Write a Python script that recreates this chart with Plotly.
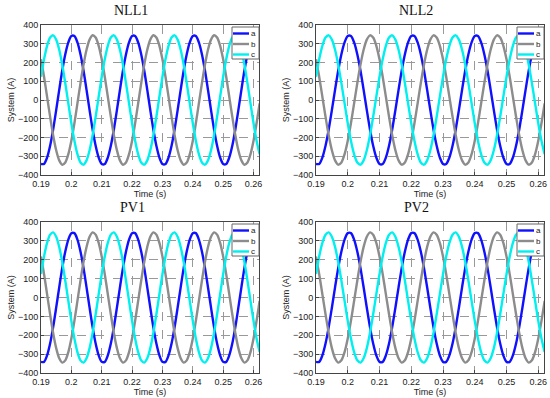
import plotly.graph_objects as go

# Time samples (s): 0.190 ... 0.262 in 1 ms steps
time = [round(0.19 + 0.001 * k, 3) for k in range(73)]

# Phase currents (A)
phase_a = [-341, -341, -307, -244, -157, -54, 54, 157, 244, 307, 341, 341, 307, 244, 157, 54, -54, -157, -244, -307,
           -341, -341, -307, -244, -157, -54, 54, 157, 244, 307, 341, 341, 307, 244, 157, 54, -54, -157, -244, -307,
           -341, -341, -307, -244, -157, -54, 54, 157, 244, 307, 341, 341, 307, 244, 157, 54, -54, -157, -244, -307,
           -341, -341, -307, -244, -157, -54, 54, 157, 244, 307, 341, 341, 307]
phase_b = [217, 124, 18, -89, -188, -268, -322, -345, -333, -289, -217, -124, -18, 89, 188, 268, 322, 345, 333, 289,
           217, 124, 18, -89, -188, -268, -322, -345, -333, -289, -217, -124, -18, 89, 188, 268, 322, 345, 333, 289,
           217, 124, 18, -89, -188, -268, -322, -345, -333, -289, -217, -124, -18, 89, 188, 268, 322, 345, 333, 289,
           217, 124, 18, -89, -188, -268, -322, -345, -333, -289, -217, -124, -18]
phase_c = [124, 217, 289, 333, 345, 322, 268, 188, 89, -18, -124, -217, -289, -333, -345, -322, -268, -188, -89, 18,
           124, 217, 289, 333, 345, 322, 268, 188, 89, -18, -124, -217, -289, -333, -345, -322, -268, -188, -89, 18,
           124, 217, 289, 333, 345, 322, 268, 188, 89, -18, -124, -217, -289, -333, -345, -322, -268, -188, -89, 18,
           124, 217, 289, 333, 345, 322, 268, 188, 89, -18, -124, -217, -289]

panel_titles = ["NLL1", "NLL2", "PV1", "PV2"]
series_names = ["a", "b", "c"]
series_colors = ["#1010ff", "#8c8c8c", "#00f0f0"]
x_ticks = [0.19, 0.2, 0.21, 0.22, 0.23, 0.24, 0.25, 0.26]
x_tick_labels = ["0.19", "0.2", "0.21", "0.22", "0.23", "0.24", "0.25", "0.26"]
y_ticks = [-400, -300, -200, -100, 0, 100, 200, 300, 400]

W, H = 550, 398
# pixel boxes of each panel: (left, right, top, bottom)
boxes = [(41, 259, 25, 175), (316, 544, 25, 175),
         (41, 259, 222, 373), (316, 544, 222, 373)]
title_pos = [(131, 10), (416, 10), (132, 207), (416, 207)]

def px(x):
    return x / W

def py(y):
    return 1 - y / H

fig = go.Figure()
layout = dict(width=W, height=H, margin=dict(l=0, r=0, t=0, b=0),
              paper_bgcolor="white", plot_bgcolor="white", showlegend=False,
              font=dict(family="Liberation Sans, Arial, sans-serif", size=9, color="#222"))
annotations = []
shapes = []
for i, (title, box) in enumerate(zip(panel_titles, boxes)):
    n = "" if i == 0 else str(i + 1)
    xa, ya = "x" + n, "y" + n
    for name, col, vals in zip(series_names, series_colors, [phase_a, phase_b, phase_c]):
        fig.add_trace(go.Scatter(x=time, y=vals, name=name, mode="lines",
                                 line=dict(color=col, width=2.4, shape="spline", smoothing=0.8),
                                 xaxis=xa, yaxis=ya, showlegend=False))
    l, r, t, b = box
    axis_common = dict(showline=True, linecolor="#444", linewidth=1, mirror=True,
                       showgrid=True, gridcolor="#999", griddash="dash", gridwidth=0.7,
                       zeroline=False, ticks="inside", ticklen=3, tickcolor="#444",
                       automargin=False, tickfont=dict(size=9, color="#222"))
    layout["xaxis" + n] = dict(domain=[px(l), px(r)], anchor=ya, range=[0.19, 0.2618],
                               tickvals=x_ticks, ticktext=x_tick_labels,
                               title=dict(text="Time (s)", font=dict(size=9), standoff=1),
                               **axis_common)
    layout["yaxis" + n] = dict(domain=[py(b), py(t)], anchor=xa, range=[-400, 400],
                               tickvals=y_ticks,
                               title=dict(text="System (A)", font=dict(size=9), standoff=1),
                               **axis_common)
    # legend box (drawn as shapes + text)
    shapes.append(dict(type="rect", xref="paper", yref="paper",
                       x0=px(r - 27), x1=px(r), y0=py(t + 34), y1=py(t + 2),
                       fillcolor="white", line=dict(color="#666", width=1), layer="above"))
    for j, (name, col) in enumerate(zip(series_names, series_colors)):
        yy = t + 8.5 + 10.5 * j
        shapes.append(dict(type="line", xref="paper", yref="paper",
                           x0=px(r - 26), x1=px(r - 10), y0=py(yy), y1=py(yy),
                           line=dict(color=col, width=2.4), layer="above"))
        annotations.append(dict(text=name, x=px(r - 6), y=py(yy), xref="paper", yref="paper",
                                showarrow=False, xanchor="center", yanchor="middle",
                                font=dict(size=8, color="#222")))
    tx, ty = title_pos[i]
    annotations.append(dict(text=title, x=px(tx), y=py(ty), xref="paper", yref="paper",
                            showarrow=False, xanchor="center", yanchor="middle",
                            font=dict(family="Liberation Serif, Times New Roman, serif",
                                      size=14, color="#111")))
layout["annotations"] = annotations
layout["shapes"] = shapes
fig.update_layout(**layout)
fig.write_html("out.html", config={"displayModeBar": False},
               post_script="document.body.style.margin='0';document.body.style.padding='0';"
                           "document.body.style.overflow='hidden';")
